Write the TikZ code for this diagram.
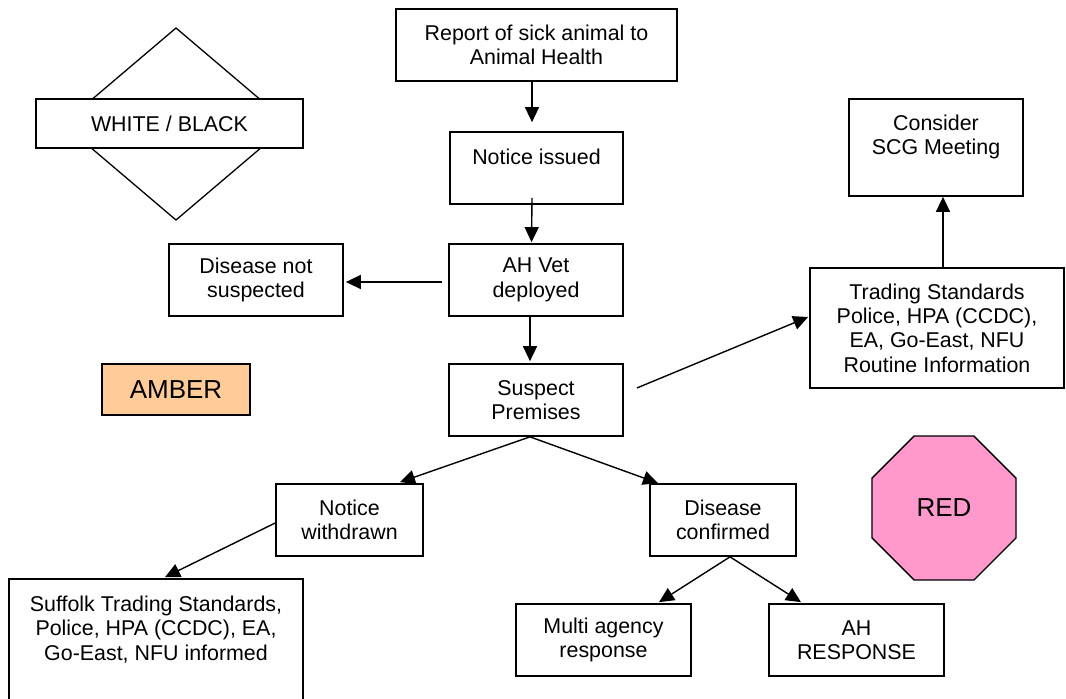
\documentclass[tikz,border=0pt]{standalone}
\usepackage{fontspec}
\setmainfont{Liberation Sans}
\usetikzlibrary{arrows.meta,shapes.geometric}

\definecolor{amberfill}{HTML}{FFCC99}
\definecolor{redfill}{HTML}{FF99CC}

\tikzset{
  box/.style={draw, line width=1.7pt, inner sep=0pt, align=center, fill=white},
  arr/.style={line width=1.4pt, -{Triangle[length=15pt,width=14pt]}},
  big/.style={font=\fontsize{26}{30}\selectfont}
}

\begin{document}
\begin{tikzpicture}[x=1pt, y=-1pt, font=\fontsize{21.4}{24.3}\selectfont]
\useasboundingbox (0,0) rectangle (1066,699);
\clip (0,0) rectangle (1066,699);

% hazard marker: diamond behind a banner
\draw[line width=1.3pt] (176,28) -- (289,124) -- (176,220) -- (63,124) -- cycle;
\node[box, minimum width=267pt, minimum height=49pt] (wb) at (169.5,123.5) {WHITE / BLACK};

% main flow
\node[box, minimum width=281pt, minimum height=72pt] (rep) at (536.5,45) {Report of sick animal to\\Animal Health};
\node[box, minimum width=173pt, minimum height=72pt] (ni) at (536.5,168) {Notice issued\\[-10pt]\strut};
\node[box, minimum width=174pt, minimum height=72pt] (ahv) at (536,280) {AH Vet\\deployed};
\node[box, minimum width=174pt, minimum height=72pt] (dns) at (256,280) {Disease not\\suspected};
\node[box, minimum width=174pt, minimum height=72pt] (sp) at (536,400) {Suspect\\Premises};
\node[box, fill=amberfill, big, minimum width=148pt, minimum height=51pt] (amb) at (176,389.5) {AMBER};

\node[box, minimum width=147pt, minimum height=72pt] (nw) at (349.5,520) {Notice\\withdrawn};
\node[box, minimum width=146pt, minimum height=72pt] (dc) at (723,520) {Disease\\confirmed};
\node[box, minimum width=175pt, minimum height=72pt] (mar) at (603.5,640) {Multi agency\\response};
\node[box, minimum width=175pt, minimum height=72pt] (ahr) at (856.5,640) {AH\\RESPONSE};
\node[box, minimum width=294pt, minimum height=130pt] (suf) at (156,644) {Suffolk Trading Standards,\\Police, HPA (CCDC), EA,\\Go-East, NFU informed\\\strut};

\node[box, minimum width=174pt, minimum height=97pt] (scg) at (936,147.5) {Consider\\SCG Meeting\\[-6pt]\strut};
\node[box, minimum width=254pt, minimum height=120pt] (ts) at (937,328) {Trading Standards\\Police, HPA (CCDC),\\EA, Go-East, NFU\\Routine Information};

\node[draw, line width=1.3pt, fill=redfill, regular polygon, regular polygon sides=8,
      minimum size=156pt, inner sep=0pt, big] (red) at (944,508) {RED};

% connectors
\draw[arr, shorten >=9pt] ([xshift=-4.5pt]rep.south) -- ([xshift=-4.5pt]ni.north);
\draw[arr, shorten >=1pt] ([xshift=-4.5pt,yshift=7pt]ni.south) -- ([xshift=-4.5pt]ahv.north);
\draw[arr, shorten >=2pt] ([xshift=-6pt]ahv.south) -- ([xshift=-6pt]sp.north);
\draw[arr] ([xshift=-6pt,yshift=-2pt]ahv.west) -- ([xshift=2pt,yshift=-2pt]dns.east);

\draw[arr] ([xshift=-6pt]sp.south) -- ([xshift=50.5pt,yshift=1pt]nw.north);
\draw[arr] ([xshift=-6pt]sp.south) -- ([xshift=-65pt]dc.north);
\draw[arr] ([yshift=-3pt]nw.west) -- ([xshift=9pt,yshift=1pt]suf.north);
\draw[arr] ([xshift=7pt]dc.south) -- ([xshift=55.5pt,yshift=1pt]mar.north);
\draw[arr] ([xshift=7pt]dc.south) -- ([xshift=-55.5pt,yshift=1pt]ahr.north);

\coordinate (spout) at ([xshift=13pt,yshift=12pt]sp.east);
\draw[arr] (spout) -- ([xshift=-1pt,yshift=11pt]ts.west);
\draw[arr] ([xshift=6pt]ts.north) -- ([xshift=7pt]scg.south);
\end{tikzpicture}
\end{document}
